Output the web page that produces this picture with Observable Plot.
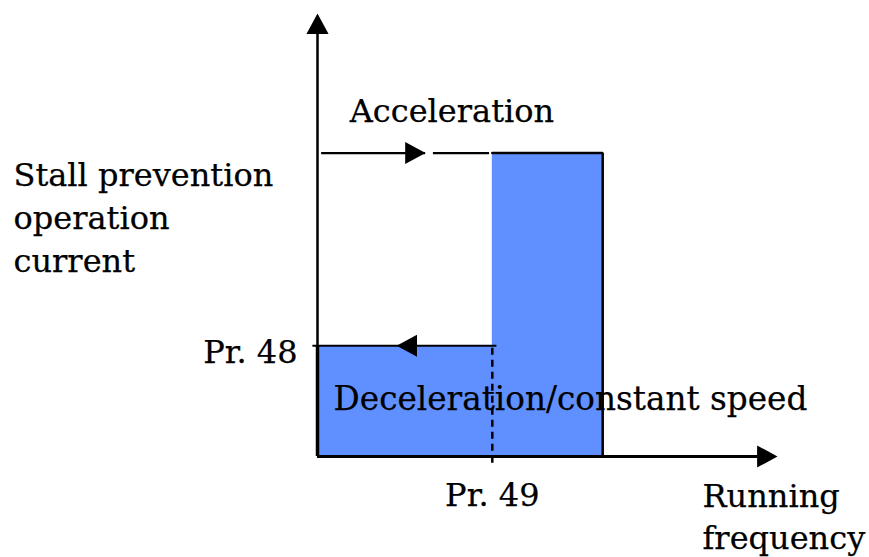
<!DOCTYPE html>
<html>
<head>
<meta charset="utf-8">
<script src="https://cdn.jsdelivr.net/npm/d3@7"></script>
<script src="https://cdn.jsdelivr.net/npm/@observablehq/plot@0.6"></script>
<style>
  html, body { margin: 0; padding: 0; background: #fff; }
  #chart svg { display: block; }
</style>
</head>
<body>
<div id="chart"></div>
<script>
// ---- data (schematic units: frequency 0..100, current 0..100) ----
const levelNames = ["Pr. 48", "Acceleration"];
const levelValues = [25, 68.5];             // Pr.48 level, acceleration stall level
const freqNames = ["Pr. 49", "End"];
const freqValues = [38, 62];                 // Pr.49 frequency, end of region
const axisMax = [100, 100];                  // x axis max, y axis max
const accelSegments = [[0.9, 23.5], [25.2, 37.4]];   // acceleration arrow line pieces
const accelArrowTip = [23.5];
const decelSegment = [-1, 39];
const decelArrowTip = [17.2];
const labelTexts = {
  yTitle: "Stall prevention\noperation\ncurrent",
  xTitle: "Running\nfrequency",
  accel: "Acceleration",
  decel: "Deceleration/constant speed",
  pr48: "Pr. 48",
  pr49: "Pr. 49"
};

const [pr48, accel] = levelValues;
const [pr49, fEnd] = freqValues;
const [xMax, yMax] = axisMax;

// filled arrowhead symbols, tip at origin
function arrowHead(angleDeg) {
  const a = angleDeg * Math.PI / 180, c = Math.cos(a), s = Math.sin(a);
  return {
    draw(ctx, size) {
      const r = Math.sqrt(size / Math.PI);
      const len = r * 2.4, half = r * 1.3;
      const pts = [[0, 0], [-len, -half], [-len, half]].map(([x, y]) => [x * c - y * s, x * s + y * c]);
      ctx.moveTo(pts[0][0], pts[0][1]);
      ctx.lineTo(pts[1][0], pts[1][1]);
      ctx.lineTo(pts[2][0], pts[2][1]);
      ctx.closePath();
    }
  };
}
const RIGHT = arrowHead(0), LEFT = arrowHead(180), UP = arrowHead(-90);

const blue = "#6090ff";
const font = "DejaVu Serif";
const textStyle = {fontSize: 32, fill: "black", stroke: "black", strokeWidth: 0.25};

const chart = Plot.plot({
  width: 869,
  height: 557,
  marginLeft: 317,
  marginRight: 92,
  marginTop: 13,
  marginBottom: 101,
  x: {domain: [0, xMax], axis: null},
  y: {domain: [0, yMax], axis: null},
  style: {fontFamily: font, background: "#fff", overflow: "visible"},
  marks: [
    // blue regions
    Plot.rect([{x1: 0, x2: fEnd, y1: 0, y2: pr48}], {x1: "x1", x2: "x2", y1: "y1", y2: "y2", fill: blue}),
    Plot.rect([{x1: pr49, x2: fEnd, y1: 0, y2: accel}], {x1: "x1", x2: "x2", y1: "y1", y2: "y2", fill: blue}),
    // outline of tall region (top + right side)
    Plot.line([[pr49, accel], [fEnd, accel], [fEnd, 0]], {x: d => d[0], y: d => d[1], stroke: "black", strokeWidth: 2.5, strokeLinejoin: "miter"}),
    // dashed Pr.49 line
    Plot.ruleX([pr49], {y1: -1.5, y2: pr48, stroke: "black", strokeWidth: 2.5, strokeDasharray: "7,5"}),
    // acceleration arrow line
    Plot.ruleY(accelSegments, {y: () => accel, x1: d => d[0], x2: d => d[1], stroke: "black", strokeWidth: 2.2}),
    Plot.dot(accelArrowTip, {x: d => d, y: () => accel, symbol: RIGHT, r: 8.5, fill: "black", stroke: "none"}),
    // deceleration arrow line at Pr.48
    Plot.ruleY([decelSegment], {y: () => pr48, x1: d => d[0], x2: d => d[1], stroke: "black", strokeWidth: 2.2}),
    Plot.dot(decelArrowTip, {x: d => d, y: () => pr48, symbol: LEFT, r: 8.5, fill: "black", stroke: "none"}),
    // axes
    Plot.ruleX([0], {y1: 0, y2: yMax - 2, stroke: "black", strokeWidth: 2.5}),
    Plot.ruleX([0], {y1: 0, y2: pr48, stroke: "black", strokeWidth: 3.5}),
    Plot.ruleY([0], {x1: 0, x2: xMax - 2, stroke: "black", strokeWidth: 2.8}),
    Plot.dot([0], {x: 0, y: yMax, symbol: UP, r: 8.5, fill: "black", stroke: "none"}),
    Plot.dot([0], {x: xMax, y: 0, symbol: RIGHT, r: 8.5, fill: "black", stroke: "none"}),
    // texts
    Plot.text([labelTexts.accel], {x: 7, y: accel, dy: -31, text: d => d, textAnchor: "start", lineAnchor: "bottom", ...textStyle}),
    Plot.text([labelTexts.decel], {x: 3.5, y: pr48, dy: 64, text: d => d, textAnchor: "start", lineAnchor: "bottom", ...textStyle, fontSize: 32.7}),
    Plot.text([labelTexts.pr48], {x: 0, y: pr48, dx: -20, dy: 17, text: d => d, textAnchor: "end", lineAnchor: "bottom", ...textStyle}),
    Plot.text([labelTexts.pr49], {x: pr49, y: 0, dy: 49, text: d => d, textAnchor: "middle", lineAnchor: "bottom", ...textStyle}),
    Plot.text([labelTexts.yTitle], {x: 0, y: accel, dx: -304, dy: 119, text: d => d, textAnchor: "start", lineAnchor: "bottom", lineHeight: 1.34, ...textStyle}),
    Plot.text([labelTexts.xTitle], {x: xMax, y: 0, dx: -75, dy: 92, text: d => d, textAnchor: "start", lineAnchor: "bottom", lineHeight: 1.3, ...textStyle})
  ]
});
document.getElementById("chart").appendChild(chart);
</script>
</body>
</html>
